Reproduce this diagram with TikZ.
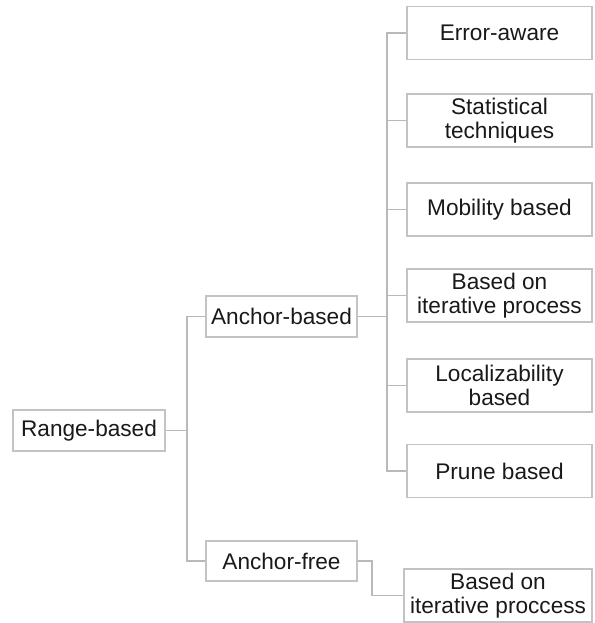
\documentclass[tikz,border=0pt]{standalone}
\usepackage{fontspec}
\setmainfont{Liberation Sans}
\definecolor{linegray}{RGB}{185,185,185}
\definecolor{boxgray}{RGB}{195,195,195}
\definecolor{inkc}{RGB}{25,25,25}
\begin{document}
\begin{tikzpicture}[x=1bp,y=-1bp,
  box/.style={draw=boxgray,line width=1.1bp,rectangle,inner sep=0pt,align=center,
    text=inkc,font=\fontsize{22.7}{24}\selectfont},
  leaf/.style={box,minimum width=185bp,minimum height=53bp},
  mid/.style={box,minimum width=151bp,minimum height=41bp},
  link/.style={draw=linegray,line width=1.1bp}]
\useasboundingbox (0,0) rectangle (595,623);

% root and second level
\node[mid,minimum width=152bp] (rb) at (89,430.5) {Range-based};
\node[mid] (ab) at (281.5,316.5) {Anchor-based};
\node[mid,minimum height=40bp] (af) at (281.5,561) {Anchor-free};

% children of the anchor-based branch
\node[leaf] (ea) at (499.5,33) {Error-aware};
\node[leaf] (st) at (499.5,120.5) {Statistical\\techniques};
\node[leaf] (mb) at (499.5,209.5) {Mobility based};
\node[leaf] (ip) at (499.5,295.5) {Based on\\iterative process};
\node[leaf] (lb) at (499.5,385.5) {Localizability\\based};
\node[leaf] (pb) at (499.5,471) {Prune based};

% child of the anchor-free branch
\node[leaf,minimum width=188bp] (ipf) at (498,595.5) {Based on\\iterative proccess};

% elbow connectors
\coordinate (rj) at (187,430.5);
\coordinate (aj) at (387,316.5);
\coordinate (fj) at (372,561);
\path[link] (rb.east) -- (rj);
\path[link] (rj) |- (ab.west);
\path[link] (rj) |- (af.west);
\path[link] (ab.east) -- (aj);
\foreach \c in {ea,st,mb,ip,lb,pb}{
  \path[link] (aj) |- (\c.west);
}
\path[link] (af.east) -- (fj) |- (ipf.west);
\end{tikzpicture}
\end{document}
